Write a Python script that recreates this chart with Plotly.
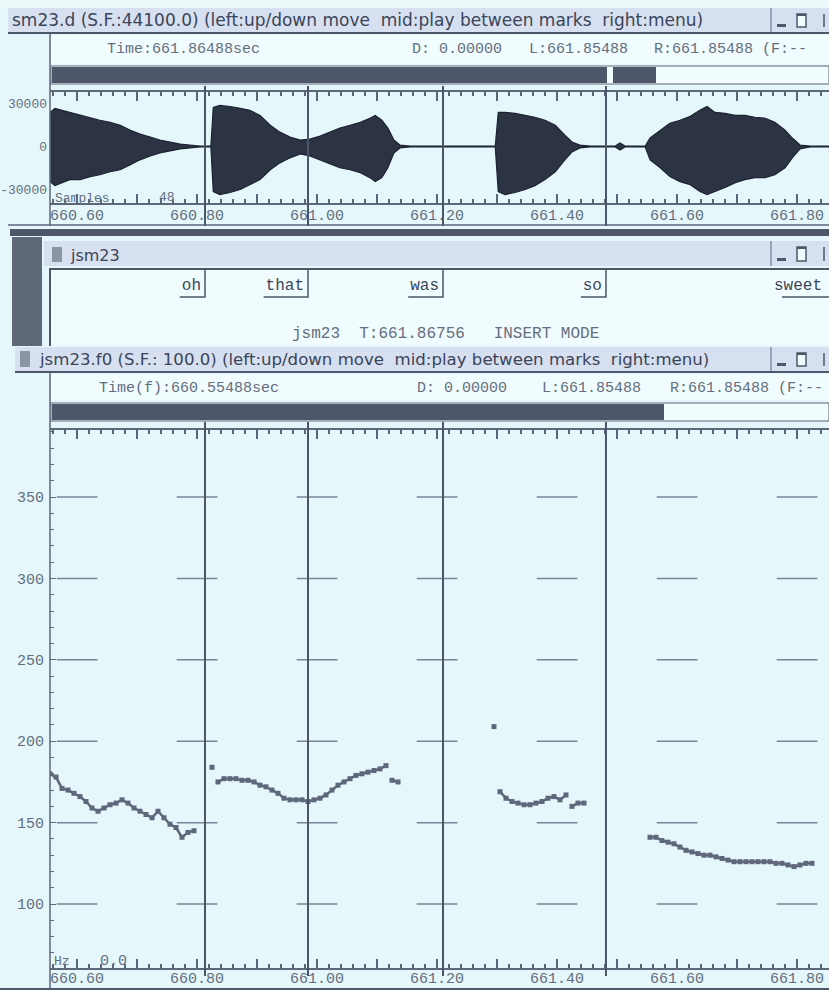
import plotly.graph_objects as go

# ---------------------------------------------------------------- canvas
W, H = 829, 990


def px(x):
    return x / W


def py(y):
    return 1 - y / H


# ---------------------------------------------------------------- data
T_LEFT = 660.55488          # time at the left edge of both panels (s)
PX_PER_SEC = 600.0          # display scale
AX_X0 = 50                  # left edge of the data panels (px)
T_RIGHT = T_LEFT + (W - AX_X0) / PX_PER_SEC
FRAME = 0.01                # f0 frame step (S.F. 100.0)

time_tick_vals = [660.6, 660.7, 660.8, 660.9, 661.0, 661.1, 661.2,
                  661.3, 661.4, 661.5, 661.6, 661.7, 661.8]
time_tick_text = ["660.60", "", "660.80", "", "661.00", "", "661.20",
                  "", "661.40", "", "661.60", "", "661.80"]
time_label_vals = [660.6, 660.8, 661.0, 661.2, 661.4, 661.6, 661.8]

wave_tick_vals = [30000, 0, -30000]
wave_tick_text = ["30000", "0", "-30000"]

f0_tick_vals = [100, 150, 200, 250, 300, 350]
f0_tick_text = ["100", "150", "200", "250", "300", "350"]

# word segmentation (label file): word and its end time
word_labels = ["oh", "that", "was", "so", "sweet"]
word_ends = [660.8132, 660.9849, 661.2099, 661.4815, 661.8649]

# waveform envelope: time, upper and lower amplitude (samples)
wave_t = [660.555, 660.563, 660.575, 660.588, 660.605, 660.622, 660.638,
          660.655, 660.672, 660.688, 660.705, 660.722, 660.738, 660.755,
          660.772, 660.788, 660.805, 660.823, 660.827, 660.838, 660.855,
          660.872, 660.888, 660.905, 660.922, 660.938, 660.955, 660.972,
          660.988, 661.005, 661.022, 661.038, 661.055, 661.072, 661.088,
          661.097, 661.108, 661.118, 661.128, 661.138, 661.155, 661.297,
          661.302, 661.313, 661.330, 661.347, 661.363, 661.380, 661.397,
          661.413, 661.425, 661.438, 661.455, 661.497, 661.505, 661.513,
          661.547, 661.555, 661.572, 661.588, 661.605, 661.622, 661.638,
          661.650, 661.663, 661.680, 661.697, 661.713, 661.730, 661.747,
          661.763, 661.780, 661.792, 661.805, 661.822, 661.853]
wave_hi = [23800, 26600, 25200, 23800, 21700, 19700, 18300, 16900, 14800,
           11400, 8600, 6600, 4500, 3100, 1700, 1000, 300, 300, 27300, 28600,
           27900, 26600, 25200, 21700, 14800, 10000, 6600, 4500, 5200, 7200,
           10000, 12800, 14800, 16900, 19700, 21700, 18300, 12800, 4500, 1000,
           300, 300, 23800, 23800, 23100, 21700, 20400, 18300, 14800, 7900,
           3100, 1000, 300, 300, 2400, 300, 300, 5900, 11400, 16200, 18300,
           21000, 25200, 27900, 23800, 23100, 21700, 21700, 20400, 19700,
           16900, 11400, 5900, 1000, 300, 300]
wave_lo = [-24500, -27300, -25200, -23100, -23100, -21000, -19700, -17600,
           -16200, -12800, -9300, -6600, -4500, -3100, -1700, -1000, -300,
           -300, -31400, -33500, -32100, -30000, -26600, -23100, -16200,
           -11400, -7900, -5200, -6600, -9300, -12100, -14800, -16200,
           -18300, -21700, -24500, -21700, -14800, -4500, -1000, -300, -300,
           -31400, -33500, -32100, -30000, -27300, -23100, -17600, -9300,
           -3800, -1000, -300, -300, -2400, -300, -300, -9300, -14800,
           -21000, -24500, -26600, -31400, -33500, -31400, -28600, -25200,
           -23100, -21700, -21700, -19700, -14800, -7900, -1700, -300, -300]

# f0 track (Hz): voiced runs given as first frame index and values
f0_run_start = [0, 27, 28, 57, 74, 75, 87, 100]
f0_run_values = [
    [180, 178, 171, 170, 168, 166, 163, 159, 157, 159, 161, 162, 164, 162,
     159, 157, 155, 153, 157, 153, 149, 147, 141, 144, 145],
    [184],
    [175, 177, 177, 177, 176, 176, 175, 173, 172, 170, 168, 165, 164, 164,
     164, 163, 164, 165, 167, 170, 173, 175, 177, 179, 180, 181, 182, 183,
     185],
    [176, 175],
    [209],
    [169, 165, 163, 162, 161, 161, 162, 163, 165, 166, 164, 167],
    [160, 162, 162],
    [141, 141, 139, 138, 137, 135, 133, 132, 131, 130, 130, 129, 128, 127,
     126, 126, 126, 126, 126, 126, 126, 125, 125, 124, 123, 124, 125, 125],
]

# ---------------------------------------------------------------- style
BG = "#e5f7fb"
PANEL = "#f1fcfe"
TITLE_BG = "#d6e0f0"
DARK = "#4d5769"
AXIS = "#5d677a"
CROSS = "#7a8497"
TEXT = "#3b4559"
TEXT_LIGHT = "#646e80"
WAVE_FILL = "#2c3444"
WAVE_LINE = "#1c2331"
F0C = "#5f677a"
MARK = "#4b5567"
SANS = "DejaVu Sans"
MONO = "Liberation Mono"

LBL_TOP, LBL_BOT = 268, 345            # label window, px


def lbl_y(y):
    return (LBL_BOT - y) / (LBL_BOT - LBL_TOP)


fig = go.Figure()

# ---------------------------------------------------------------- traces
fig.add_trace(go.Scatter(
    x=wave_t + wave_t[::-1], y=wave_hi + wave_lo[::-1],
    mode="lines", fill="toself", fillcolor=WAVE_FILL,
    line=dict(color=WAVE_LINE, width=1.2), xaxis="x", yaxis="y",
    hoverinfo="skip", showlegend=False))

cross_x, cross_y = [], []
for t in time_label_vals:
    for f in f0_tick_vals:
        cross_x += [t - 0.034, t + 0.034, None]
        cross_y += [f, f, None]
fig.add_trace(go.Scatter(
    x=cross_x, y=cross_y, mode="lines", line=dict(color=CROSS, width=1.5),
    xaxis="x2", yaxis="y2", hoverinfo="skip", showlegend=False))

f0_x, f0_y = [], []
for start, vals in zip(f0_run_start, f0_run_values):
    for i, v in enumerate(vals):
        f0_x.append(T_LEFT + (start + i) * FRAME)
        f0_y.append(v)
    f0_x.append(None)
    f0_y.append(None)
fig.add_trace(go.Scatter(
    x=f0_x, y=f0_y, mode="lines+markers",
    line=dict(color=F0C, width=2.5),
    marker=dict(color=F0C, size=5, symbol="square"),
    xaxis="x2", yaxis="y2", hoverinfo="skip", showlegend=False))

# label window: boundary tick + underline for each word, then the word
CHAR_W = 9.6  # px per character of the label font
lab_x, lab_y, txt_x = [], [], []
for w, t in zip(word_labels, word_ends):
    span = (len(w) * CHAR_W + 6) / PX_PER_SEC
    lab_x += [t, t, t - span, None]
    lab_y += [lbl_y(270), lbl_y(297), lbl_y(297), None]
    # a label whose mark lies past the right edge is kept inside the window
    end = min(t, T_RIGHT - 3 / PX_PER_SEC)
    txt_x.append(end - (len(w) * CHAR_W + 4) / PX_PER_SEC)
fig.add_trace(go.Scatter(
    x=lab_x, y=lab_y, mode="lines", line=dict(color=MARK, width=1.5),
    xaxis="x3", yaxis="y3", hoverinfo="skip", showlegend=False))
fig.add_trace(go.Scatter(
    x=txt_x, y=[lbl_y(286)] * len(word_labels), mode="text",
    text=word_labels, textposition="middle right", cliponaxis=False,
    textfont=dict(family=MONO, size=16, color=TEXT),
    xaxis="x3", yaxis="y3", hoverinfo="skip", showlegend=False))

# ---------------------------------------------------------------- shapes
shapes = []


def rect(x0, y0, x1, y1, fill, line=None, lw=0):
    shapes.append(dict(type="rect", xref="paper", yref="paper",
                       x0=px(x0), x1=px(x1), y0=py(y1), y1=py(y0),
                       fillcolor=fill, layer="below",
                       line=dict(color=line or fill, width=lw)))


def hline(x0, x1, y, color, lw=1):
    shapes.append(dict(type="line", xref="paper", yref="paper",
                       x0=px(x0), x1=px(x1), y0=py(y), y1=py(y),
                       line=dict(color=color, width=lw)))


def vline(x, y0, y1, color, lw=1):
    shapes.append(dict(type="line", xref="paper", yref="paper",
                       x0=px(x), x1=px(x), y0=py(y0), y1=py(y1),
                       line=dict(color=color, width=lw)))


def buttons(ytop, ybot):
    vline(771, ytop, ybot, AXIS, 1)
    rect(777, ybot - 8, 786, ybot - 5, DARK)
    rect(797, ytop + 6, 806, ybot - 5, PANEL, DARK, 1.5)
    rect(797, ytop + 6, 806, ytop + 8, DARK)
    vline(824, ytop + 6, ybot - 5, DARK, 1.5)


# top window (waveform)
rect(0, 0, W, 7, "#eef9fc")
rect(8, 8, W, 32, TITLE_BG)
hline(8, W, 33, DARK, 2)
buttons(8, 32)
rect(51, 35, W, 64, PANEL)
rect(51, 66, W, 84, PANEL, AXIS, 1)
rect(52, 67, 607, 83, DARK)
rect(613, 67, 656, 83, DARK)
vline(50, 34, 226, AXIS, 1.5)
hline(8, W, 225, AXIS, 1.5)
rect(10, 229, W, 236, DARK)

# label window
rect(12, 237, 42, 346, "#5e6878")
rect(44, 241, W, 266, TITLE_BG)
rect(52, 247, 62, 262, "#8b95a6")
buttons(241, 266)
rect(50, LBL_TOP, W, LBL_BOT, PANEL)
hline(50, W, 269, DARK, 2)
vline(50, 268, 346, DARK, 2)

# f0 window
rect(15, 347, W, 371, TITLE_BG)
rect(20, 351, 30, 367, "#8b95a6")
buttons(347, 371)
hline(15, W, 372, DARK, 2)
rect(51, 374, W, 400, PANEL)
rect(51, 403, W, 421, PANEL, AXIS, 1)
rect(52, 404, 664, 420, DARK)
vline(50, 372, 988, AXIS, 1.5)
hline(0, W, 989, DARK, 2)

# word boundary marks across the waveform and f0 panels
for t in word_ends:
    shapes.append(dict(type="line", xref="x", yref="paper", x0=t, x1=t,
                       y0=py(226), y1=py(86), line=dict(color=MARK, width=2)))
    shapes.append(dict(type="line", xref="x2", yref="paper", x0=t, x1=t,
                       y0=py(976), y1=py(422), line=dict(color=MARK, width=2)))

# ---------------------------------------------------------------- text
ann = []


def text(x, y, s, font=MONO, size=15, color=TEXT_LIGHT, anchor="left"):
    ann.append(dict(x=px(x), y=py(y), xref="paper", yref="paper", text=s,
                    showarrow=False, xanchor=anchor, yanchor="middle",
                    font=dict(family=font, size=size, color=color)))


NB = "\u00a0"
text(10, 20, "sm23.d (S.F.:44100.0) (left:up/down move" + NB * 2 +
     "mid:play between marks" + NB * 2 + "right:menu)", SANS, 17, TEXT)
text(105, 50, "Time:661.86488sec")
text(410, 50, "D:" + NB + "0.00000")
text(527, 50, "L:661.85488")
text(652, 50, "R:661.85488" + NB + "(F:--")
text(53, 199, "Samples", MONO, 13)
text(157, 197, "48", MONO, 13)

text(68, 255, "jsm23", SANS, 16, TEXT)
text(290, 334, "jsm23" + NB * 2 + "T:661.86756" + NB * 3 + "INSERT" + NB + "MODE",
     MONO, 16)

text(37, 359, "jsm23.f0 (S.F.:" + NB + "100.0) (left:up/down move" + NB * 2 +
     "mid:play between marks" + NB * 2 + "right:menu)", SANS, 16.6, TEXT)
text(97, 388, "Time(f):660.55488sec")
text(415, 388, "D:" + NB + "0.00000")
text(540, 388, "L:661.85488")
text(668, 388, "R:661.85488" + NB + "(F:--")
text(52, 961, "Hz", MONO, 13)
text(98, 961, "0.0", MONO, 15)

# ---------------------------------------------------------------- axes
tickfont = dict(family=MONO, size=15, color=TEXT_LIGHT)


def time_axis(anchor, standoff):
    return dict(domain=[px(AX_X0), 1], range=[T_LEFT, T_RIGHT], anchor=anchor,
                showline=True, linecolor=AXIS, linewidth=1.5, mirror="ticks",
                ticks="inside", ticklen=9, tickwidth=1.5, tickcolor=AXIS,
                tickvals=time_tick_vals, ticktext=time_tick_text,
                tickfont=tickfont, ticklabelstandoff=standoff,
                automargin=False,
                minor=dict(ticks="inside", ticklen=4, tickcolor=AXIS,
                           tick0=660.6, dtick=0.02, showgrid=False),
                showgrid=False, zeroline=False, fixedrange=True)


fig.update_layout(
    width=W, height=H, margin=dict(l=0, r=0, t=0, b=0, autoexpand=False),
    paper_bgcolor=BG, plot_bgcolor="rgba(0,0,0,0)",
    showlegend=False, shapes=shapes, annotations=ann,
    xaxis=time_axis("y", -3),
    yaxis=dict(domain=[py(203), py(92)], range=[-39400, 38000], anchor="x",
               showline=False, ticks="", tickvals=wave_tick_vals,
               ticktext=wave_tick_text,
               tickfont=dict(family=MONO, size=13, color=TEXT_LIGHT),
               ticklabelstandoff=2, showgrid=False, zeroline=False,
               automargin=False, fixedrange=True),
    xaxis2=time_axis("y2", -5),
    yaxis2=dict(domain=[py(968), py(430)], range=[60.7, 391.2], anchor="x2",
                showline=False, ticks="inside", ticklen=6, tickcolor=AXIS,
                tickvals=f0_tick_vals, ticktext=f0_tick_text,
                tickfont=tickfont, ticklabelstandoff=5, automargin=False,
                minor=dict(ticks="inside", ticklen=4, tickcolor=AXIS,
                           dtick=10, showgrid=False),
                showgrid=False, zeroline=False, fixedrange=True),
    xaxis3=dict(domain=[px(AX_X0), 1], range=[T_LEFT, T_RIGHT], anchor="y3",
                visible=False, automargin=False, fixedrange=True),
    yaxis3=dict(domain=[py(LBL_BOT), py(LBL_TOP)], range=[0, 1], anchor="x3",
                visible=False, automargin=False, fixedrange=True),
)

fig.write_html("out.html")
